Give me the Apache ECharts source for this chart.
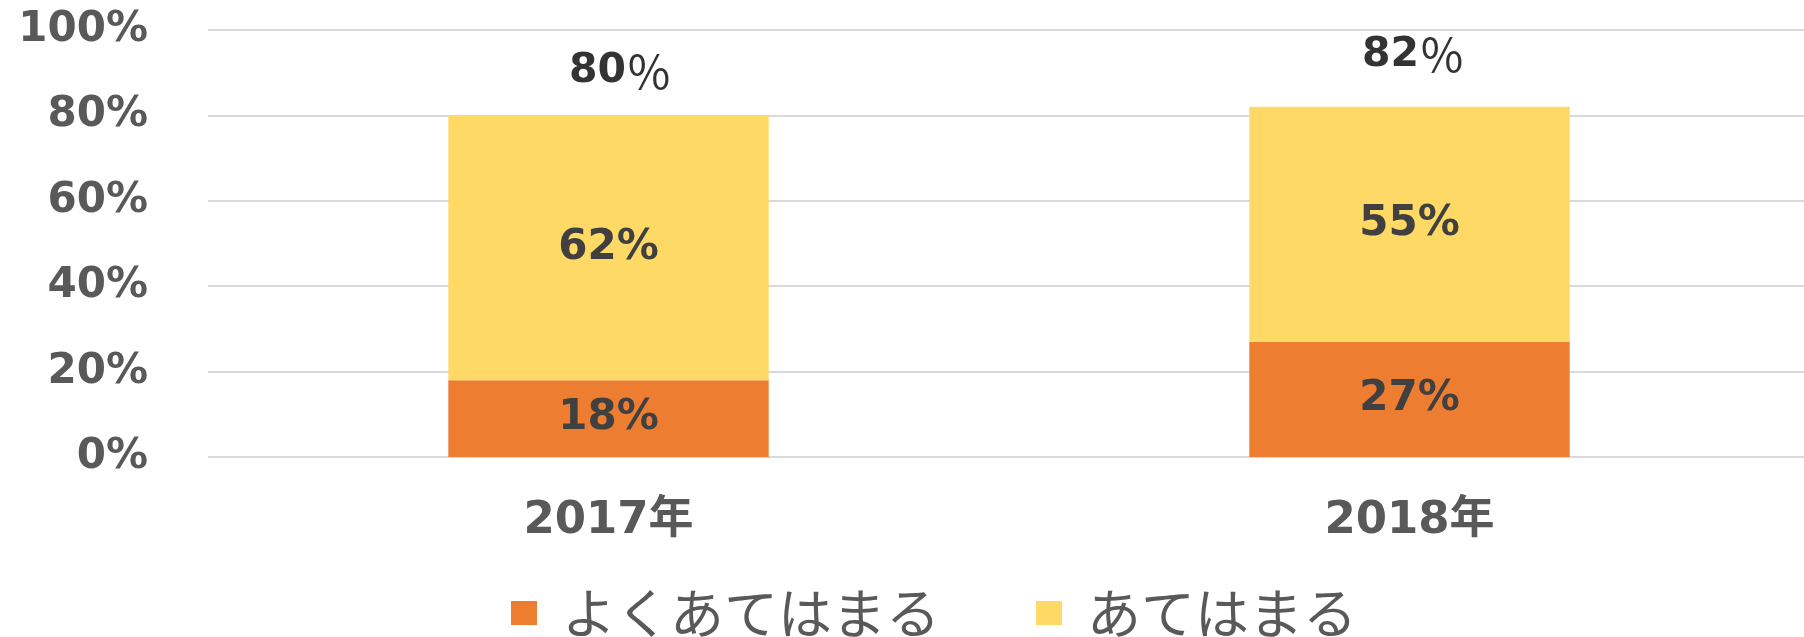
<!DOCTYPE html>
<html>
<head>
<meta charset="utf-8">
<script src="https://cdn.jsdelivr.net/npm/echarts@6/dist/echarts.min.js"></script>
<style>
  html, body { margin: 0; padding: 0; background: #fff; }
  #main { width: 1804px; height: 637px; }
</style>
</head>
<body>
<div id="main"></div>
<script>
// データ
const years = ['2017年', '2018年']
const yokuAtehamaru = [18, 27]   // よくあてはまる
const atehamaru = [62, 55]       // あてはまる
const totals = [80, 82]          // 合計（上のラベル）
const yTicks = [0, 20, 40, 60, 80, 100]

const numFont = 'DejaVu Sans, Verdana, Noto Sans CJK JP, sans-serif'
const jpFont = 'Noto Sans CJK JP, sans-serif'

var myChart = echarts.init(document.querySelector('#main'))

// 合計ラベルの位置（Excelで手動配置されている）
const totalOffsets = [[12, -44], [4, -52]]

option = {
  animation: false,
  color: ['#ED7D31', '#FFD966'],
  grid: {
    left: 208,
    top: 30,
    width: 1602,
    height: 427,
    outerBoundsMode: 'none'
  },
  legend: {
    data: ['よくあてはまる', 'あてはまる'],
    left: 506,
    bottom: -8,
    itemWidth: 26,
    itemHeight: 24,
    itemGap: 96,
    icon: 'rect',
    textStyle: {
      fontFamily: jpFont,
      fontSize: 54,
      color: '#595959',
      padding: [0, 0, 0, 20]
    }
  },
  xAxis: {
    type: 'category',
    data: years,
    axisLine: { show: false },
    axisTick: { show: false },
    axisLabel: {
      margin: 42,
      fontFamily: numFont,
      fontWeight: 'bold',
      fontSize: 45,
      color: '#595959'
    }
  },
  yAxis: {
    type: 'value',
    min: yTicks[0],
    max: yTicks[yTicks.length - 1],
    interval: 20,
    axisLine: { show: false },
    axisTick: { show: false },
    axisLabel: {
      margin: 60,
      formatter: '{value}%',
      fontFamily: numFont,
      fontWeight: 'bold',
      fontSize: 42,
      color: '#595959'
    },
    splitLine: {
      lineStyle: { color: '#D9D9D9', width: 2 }
    }
  },
  series: [
    {
      name: 'よくあてはまる',
      type: 'bar',
      stack: 'total',
      barWidth: '40%',
      data: yokuAtehamaru,
      label: {
        show: true,
        position: 'inside',
        formatter: '{c}%',
        fontFamily: numFont,
        fontWeight: 'bold',
        fontSize: 42,
        color: '#404040'
      }
    },
    {
      name: 'あてはまる',
      type: 'bar',
      stack: 'total',
      barWidth: '40%',
      data: atehamaru,
      label: {
        show: true,
        position: 'inside',
        formatter: '{c}%',
        fontFamily: numFont,
        fontWeight: 'bold',
        fontSize: 42,
        color: '#404040'
      }
    },
    {
      // 合計ラベル
      name: '合計',
      type: 'scatter',
      symbolSize: 1,
      itemStyle: { color: 'rgba(0,0,0,0)' },
      silent: true,
      data: totals.map((v, i) => ({
        value: v,
        label: { offset: totalOffsets[i] }
      })),
      label: {
        show: true,
        position: 'inside',
        formatter: '{n|{c}}{p|％}',
        rich: {
          n: {
            fontFamily: numFont,
            fontWeight: 'bold',
            fontSize: 41,
            color: '#000'
          },
          p: {
            fontFamily: jpFont,
            fontWeight: 'normal',
            fontSize: 46,
            color: '#000'
          }
        }
      }
    }
  ]
}

myChart.setOption(option)
</script>
</body>
</html>
